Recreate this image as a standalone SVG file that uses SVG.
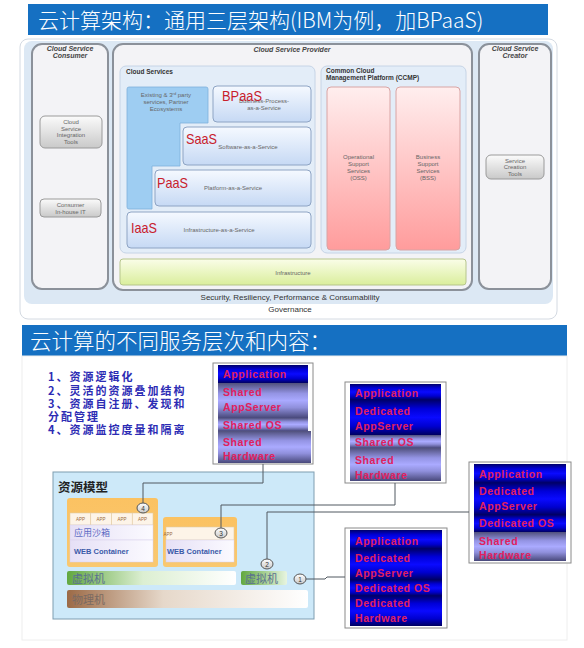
<svg xmlns="http://www.w3.org/2000/svg" width="584" height="648" viewBox="0 0 584 648">
<defs>
<style>
.t{font-family:"Liberation Sans",Arial,sans-serif}
.cjk{font-family:"Noto Sans CJK SC",sans-serif}
.col{fill:#f3f3f6;stroke:#8b919a;stroke-width:2}
.ct{font-family:"Liberation Sans",Arial,sans-serif;font-size:7px;font-weight:bold;font-style:italic;fill:#444;text-anchor:middle}
.sm{font-family:"Liberation Sans",Arial,sans-serif;font-size:6px;fill:#666;text-anchor:middle}
.btn{fill:url(#gBtn);stroke:#9a9a9a;stroke-width:1}
.svc{fill:url(#gSvc);stroke:#8ea4c4;stroke-width:1}
.red{font-family:"Liberation Sans",Arial,sans-serif;font-size:15px;fill:#c8202c}
.st{font-family:"Liberation Sans",Arial,sans-serif;font-size:10.5px;font-weight:bold;fill:#e0205e;letter-spacing:0.6px}
.frame{fill:#fff;stroke:#8a8a8a;stroke-width:1}
.dk{fill:url(#gDark)}
.lt{fill:url(#gLight)}
.li{font-family:"Noto Sans CJK SC",sans-serif;font-size:11px;font-weight:bold;fill:#2c2cb4;letter-spacing:2px}
.conn{fill:none;stroke:#505860;stroke-width:1}
.cir{fill:url(#gCir);stroke:#555;stroke-width:1}
.num{font-family:"Liberation Sans",Arial,sans-serif;font-size:6.5px;fill:#333;text-anchor:middle}
.app{fill:#fdf4e8;stroke:#e2cba6;stroke-width:0.6}
.appt{font-family:"Liberation Sans",Arial,sans-serif;font-size:4.5px;fill:#9a6a3a;text-anchor:middle}
</style>
<linearGradient id="gBtn" x1="0" y1="0" x2="0" y2="1"><stop offset="0" stop-color="#fbfbfb"/><stop offset="1" stop-color="#c9c9c9"/></linearGradient>
<linearGradient id="gSvc" x1="0" y1="0" x2="0" y2="1"><stop offset="0" stop-color="#f5f9ff"/><stop offset="1" stop-color="#c6d9f4"/></linearGradient>
<linearGradient id="gPink" x1="0" y1="0" x2="0" y2="1"><stop offset="0" stop-color="#ffeeee"/><stop offset="1" stop-color="#ff9c9c"/></linearGradient>
<linearGradient id="gInf" x1="0" y1="0" x2="0" y2="1"><stop offset="0" stop-color="#fafde8"/><stop offset="1" stop-color="#daee9c"/></linearGradient>
<linearGradient id="gDark" x1="0" y1="0" x2="0" y2="1"><stop offset="0" stop-color="#00006a"/><stop offset="0.25" stop-color="#0000d8"/><stop offset="0.5" stop-color="#0a0aff"/><stop offset="0.75" stop-color="#0000d0"/><stop offset="1" stop-color="#000060"/></linearGradient>
<linearGradient id="gLight" x1="0" y1="0" x2="0" y2="1"><stop offset="0" stop-color="#50507c"/><stop offset="0.3" stop-color="#9494e4"/><stop offset="0.5" stop-color="#aaaaff"/><stop offset="0.7" stop-color="#9090dc"/><stop offset="1" stop-color="#48487a"/></linearGradient>
<linearGradient id="gCir" x1="0" y1="0" x2="0" y2="1"><stop offset="0" stop-color="#ffffff"/><stop offset="1" stop-color="#c8c8c8"/></linearGradient>
<linearGradient id="gOr" x1="0" y1="0" x2="0" y2="1"><stop offset="0" stop-color="#fbc262"/><stop offset="1" stop-color="#f9c870"/></linearGradient>
<linearGradient id="gLav" x1="0" y1="0" x2="1" y2="0"><stop offset="0" stop-color="#e6e0f6"/><stop offset="1" stop-color="#fbfaff"/></linearGradient>
<linearGradient id="gVm" x1="0" y1="0" x2="1" y2="0"><stop offset="0" stop-color="#62a840"/><stop offset="0.45" stop-color="#dcefd2"/><stop offset="1" stop-color="#ffffff"/></linearGradient>
<linearGradient id="gVm2" x1="0" y1="0" x2="1" y2="0"><stop offset="0" stop-color="#62a840"/><stop offset="1" stop-color="#e8f5e0"/></linearGradient>
<linearGradient id="gPm" x1="0" y1="0" x2="1" y2="0"><stop offset="0" stop-color="#9c6a46"/><stop offset="0.4" stop-color="#e6d8ca"/><stop offset="1" stop-color="#ffffff"/></linearGradient>
</defs>

<rect width="584" height="648" fill="#ffffff"/>

<!-- TOP SECTION -->
<g id="title1">
<rect x="28" y="4" width="520" height="31" fill="#1570c2"/>
<text x="38" y="28" class="cjk" font-size="21" font-weight="300" fill="#ffffff">云计算架构：通用三层架构(IBM为例，加BPaaS)</text>
</g>

<g id="frame-top">
<rect x="20" y="39" width="537" height="280" rx="8" fill="#ffffff" stroke="#d4dae2" stroke-width="1"/>
<rect x="24" y="41" width="529" height="263" rx="8" fill="#dce8f4"/>
<text x="290" y="300" class="t" font-size="8" fill="#333" text-anchor="middle">Security, Resiliency, Performance &amp; Consumability</text>
<text x="290" y="312" class="t" font-size="8" fill="#333" text-anchor="middle">Governance</text>
</g>

<g id="consumer">
<rect x="32" y="44" width="76" height="245" rx="10" class="col"/>
<text x="70" y="51" class="ct">Cloud Service</text>
<text x="70" y="58" class="ct">Consumer</text>
</g>
<g id="integration-tools">
<rect x="40" y="116" width="62" height="32" rx="5" class="btn"/>
<text class="sm"><tspan x="71" y="124">Cloud</tspan><tspan x="71" y="130.5">Service</tspan><tspan x="71" y="137">Integration</tspan><tspan x="71" y="143.5">Tools</tspan></text>
</g>
<g id="inhouse-it">
<rect x="40" y="199" width="61" height="18" rx="4" class="btn"/>
<text class="sm"><tspan x="70.5" y="207">Consumer</tspan><tspan x="70.5" y="213.5">In-house IT</tspan></text>
</g>

<g id="provider">
<rect x="113" y="44" width="359" height="246" rx="10" class="col"/>
<text x="292" y="52" class="ct">Cloud Service Provider</text>
</g>

<g id="cloud-services">
<rect x="120" y="66" width="195" height="187" rx="6" fill="#e3edf8" stroke="#c6d4e6"/>
<text x="126" y="74" class="t" font-size="6.5" font-weight="bold" fill="#333">Cloud Services</text>
</g>

<g id="existing">
<path d="M129,87 H206 Q208,87 208,89 V123 H180 V166 H152 V209 H129 Q127,209 127,207 V89 Q127,87 129,87 Z" fill="#9ecdf2" stroke="#7fb0dc" stroke-width="0.8"/>
<text class="sm"><tspan x="166" y="97">Existing &amp; 3<tspan font-size="4" dy="-2">rd</tspan><tspan dy="2"> party</tspan></tspan><tspan x="166" y="104">services, Partner</tspan><tspan x="166" y="111">Ecosystems</tspan></text>
</g>

<g id="bpaas">
<rect x="213" y="86" width="98" height="36" rx="4" class="svc"/>
<text class="sm"><tspan x="264" y="103">Business-Process-</tspan><tspan x="264" y="110">as-a-Service</tspan></text>
<text x="222" y="101" class="red" textLength="40" lengthAdjust="spacingAndGlyphs">BPaaS</text>
</g>
<g id="saas">
<rect x="183" y="127" width="128" height="38" rx="4" class="svc"/>
<text x="248" y="149" class="sm">Software-as-a-Service</text>
<text x="186" y="144" class="red" textLength="31" lengthAdjust="spacingAndGlyphs">SaaS</text>
</g>
<g id="paas">
<rect x="155" y="170" width="156" height="36" rx="4" class="svc"/>
<text x="233" y="190" class="sm">Platform-as-a-Service</text>
<text x="157" y="188" class="red" textLength="31" lengthAdjust="spacingAndGlyphs">PaaS</text>
</g>
<g id="iaas">
<rect x="127" y="212" width="184" height="36" rx="4" class="svc"/>
<text x="219" y="232" class="sm">Infrastructure-as-a-Service</text>
<text x="131" y="233" class="red" textLength="26" lengthAdjust="spacingAndGlyphs">IaaS</text>
</g>

<g id="ccmp">
<rect x="321" y="66" width="145" height="187" rx="6" fill="#e3edf8" stroke="#c6d4e6"/>
<text class="t" font-size="6.5" font-weight="bold" fill="#333"><tspan x="326" y="73">Common Cloud</tspan><tspan x="326" y="80">Management Platform (CCMP)</tspan></text>
</g>
<g id="oss">
<rect x="327" y="87" width="63" height="163" rx="4" fill="url(#gPink)" stroke="#d8a4a4"/>
<text class="sm"><tspan x="358.5" y="159">Operational</tspan><tspan x="358.5" y="166">Support</tspan><tspan x="358.5" y="173">Services</tspan><tspan x="358.5" y="180">(OSS)</tspan></text>
</g>
<g id="bss">
<rect x="396" y="87" width="64" height="163" rx="4" fill="url(#gPink)" stroke="#d8a4a4"/>
<text class="sm"><tspan x="428" y="159">Business</tspan><tspan x="428" y="166">Support</tspan><tspan x="428" y="173">Services</tspan><tspan x="428" y="180">(BSS)</tspan></text>
</g>
<g id="infrastructure">
<rect x="120" y="259" width="346" height="26" rx="3" fill="url(#gInf)" stroke="#b6c58c"/>
<text x="293" y="275" class="sm">Infrastructure</text>
</g>

<g id="creator">
<rect x="479" y="44" width="72" height="245" rx="10" class="col"/>
<text x="515" y="51" class="ct">Cloud Service</text>
<text x="515" y="58" class="ct">Creator</text>
</g>
<g id="creation-tools">
<rect x="486" y="155" width="58" height="24" rx="5" class="btn"/>
<text class="sm"><tspan x="515" y="162.5">Service</tspan><tspan x="515" y="169">Creation</tspan><tspan x="515" y="175.5">Tools</tspan></text>
</g>

<!-- BOTTOM SECTION -->
<g id="title2">
<rect x="22" y="325" width="545" height="31" fill="#1570c2"/>
<text x="30" y="349" class="cjk" font-size="21.5" font-weight="300" fill="#ffffff">云计算的不同服务层次和内容：</text>
<rect x="22" y="356" width="545" height="284" fill="#ffffff" stroke="#eeeeee"/>
</g>

<g id="features">
<text x="48" y="381" class="li">1、资源逻辑化</text>
<text x="48" y="395" class="li">2、灵活的资源叠加结构</text>
<text x="48" y="408" class="li">3、资源自注册、发现和</text>
<text x="48" y="421" class="li">分配管理</text>
<text x="48" y="434" class="li">4、资源监控度量和隔离</text>
</g>

<g id="stack1">
<rect x="213" y="363" width="100" height="101" class="frame"/>
<rect x="218" y="365" width="90" height="18" class="dk"/>
<rect x="218" y="383" width="90" height="35" class="lt"/>
<rect x="218" y="418" width="90" height="13" class="lt"/>
<rect x="218" y="431" width="93" height="32" class="lt"/>
<text x="223" y="378" class="st">Application</text>
<text x="223" y="396" class="st">Shared</text>
<text x="223" y="411" class="st">AppServer</text>
<text x="223" y="429" class="st">Shared OS</text>
<text x="223" y="446" class="st">Shared</text>
<text x="223" y="460" class="st">Hardware</text>
</g>

<g id="stack2">
<rect x="345" y="382" width="101" height="101" class="frame"/>
<rect x="350" y="384" width="91" height="16" class="dk"/>
<rect x="350" y="400" width="91" height="35" class="dk"/>
<rect x="350" y="435" width="91" height="13" class="lt"/>
<rect x="350" y="448" width="91" height="33" class="lt"/>
<text x="355" y="397" class="st">Application</text>
<text x="355" y="415" class="st">Dedicated</text>
<text x="355" y="430" class="st">AppServer</text>
<text x="355" y="446" class="st">Shared OS</text>
<text x="355" y="464" class="st">Shared</text>
<text x="355" y="479" class="st">Hardware</text>
</g>

<g id="stack3">
<rect x="469" y="462" width="102" height="101" class="frame"/>
<rect x="474" y="464" width="92" height="19" class="dk"/>
<rect x="474" y="483" width="92" height="32" class="dk"/>
<rect x="474" y="515" width="92" height="17" class="dk"/>
<rect x="474" y="532" width="92" height="29" class="lt"/>
<text x="479" y="478" class="st">Application</text>
<text x="479" y="495" class="st">Dedicated</text>
<text x="479" y="510" class="st">AppServer</text>
<text x="479" y="527" class="st">Dedicated OS</text>
<text x="479" y="545" class="st">Shared</text>
<text x="479" y="559" class="st">Hardware</text>
</g>

<g id="stack4">
<rect x="345" y="528" width="102" height="100" class="frame"/>
<rect x="350" y="530" width="92" height="19" class="dk"/>
<rect x="350" y="549" width="92" height="31" class="dk"/>
<rect x="350" y="580" width="92" height="16" class="dk"/>
<rect x="350" y="596" width="92" height="30" class="dk"/>
<text x="355" y="545" class="st">Application</text>
<text x="355" y="562" class="st">Dedicated</text>
<text x="355" y="577" class="st">AppServer</text>
<text x="355" y="592" class="st">Dedicated OS</text>
<text x="355" y="607" class="st">Dedicated</text>
<text x="355" y="622" class="st">Hardware</text>
</g>

<g id="resource-model">
<rect x="53" y="472" width="261" height="147" fill="#cde9f9" stroke="#7e9db0" stroke-width="1"/>
<text x="58" y="492" class="cjk" font-size="12.5" font-weight="bold" fill="#222">资源模型</text>
</g>

<g id="container1">
<rect x="67" y="498" width="91" height="69" rx="3" fill="url(#gOr)"/>
<rect x="70" y="513" width="20.75" height="12" class="app"/>
<rect x="90.75" y="513" width="20.75" height="12" class="app"/>
<rect x="111.5" y="513" width="20.75" height="12" class="app"/>
<rect x="132.25" y="513" width="20.75" height="12" class="app"/>
<text x="80.4" y="521" class="appt">APP</text>
<text x="101.1" y="521" class="appt">APP</text>
<text x="121.9" y="521" class="appt">APP</text>
<text x="142.6" y="521" class="appt">APP</text>
<rect x="70" y="525" width="83" height="15" fill="url(#gLav)" stroke="#d8d0ec" stroke-width="0.5"/>
<text x="74" y="536" class="cjk" font-size="9" fill="#5e6cc4">应用沙箱</text>
<rect x="70" y="540" width="83" height="22" fill="url(#gLav)" stroke="#d8d0ec" stroke-width="0.5"/>
<text x="74" y="554" class="t" font-size="7.5" font-weight="bold" fill="#3a5aa8">WEB Container</text>
</g>

<g id="container2">
<rect x="163" y="517" width="74" height="50" rx="3" fill="url(#gOr)"/>
<rect x="166" y="527" width="68" height="13" class="app"/>
<text x="168" y="535.5" class="appt" text-anchor="start">APP</text>
<rect x="166" y="540" width="68" height="22" fill="url(#gLav)" stroke="#d8d0ec" stroke-width="0.5"/>
<text x="167" y="554" class="t" font-size="7.5" font-weight="bold" fill="#3a5aa8">WEB Container</text>
</g>

<g id="vm1">
<rect x="67" y="571" width="169" height="14" rx="2" fill="url(#gVm)"/>
<text x="72" y="582.5" class="cjk" font-size="11" fill="#5a7090">虚拟机</text>
</g>
<g id="vm2">
<rect x="241" y="571" width="46" height="14" rx="2" fill="url(#gVm2)"/>
<text x="245" y="582.5" class="cjk" font-size="11" fill="#5a7090">虚拟机</text>
</g>
<g id="pm">
<rect x="67" y="590" width="241" height="18" rx="2" fill="url(#gPm)"/>
<text x="72" y="603.5" class="cjk" font-size="11" fill="#7a6a62">物理机</text>
</g>

<g id="connectors">
<path class="conn" d="M263,464 V483 H143 V503"/>
<path class="conn" d="M395,483 V505 H221 V528"/>
<path class="conn" d="M469,512 H267 V559"/>
<path class="conn" d="M306,579 H325 L327,577 H345"/>
</g>

<g id="markers">
<ellipse cx="143" cy="508" rx="6" ry="5" class="cir"/><text x="143" y="510.5" class="num">4</text>
<ellipse cx="221" cy="533" rx="6" ry="5" class="cir"/><text x="221" y="535.5" class="num">3</text>
<ellipse cx="267" cy="564" rx="6" ry="5" class="cir"/><text x="267" y="566.5" class="num">2</text>
<ellipse cx="300" cy="579" rx="6" ry="5" class="cir"/><text x="300" y="581.5" class="num">1</text>
</g>
</svg>
